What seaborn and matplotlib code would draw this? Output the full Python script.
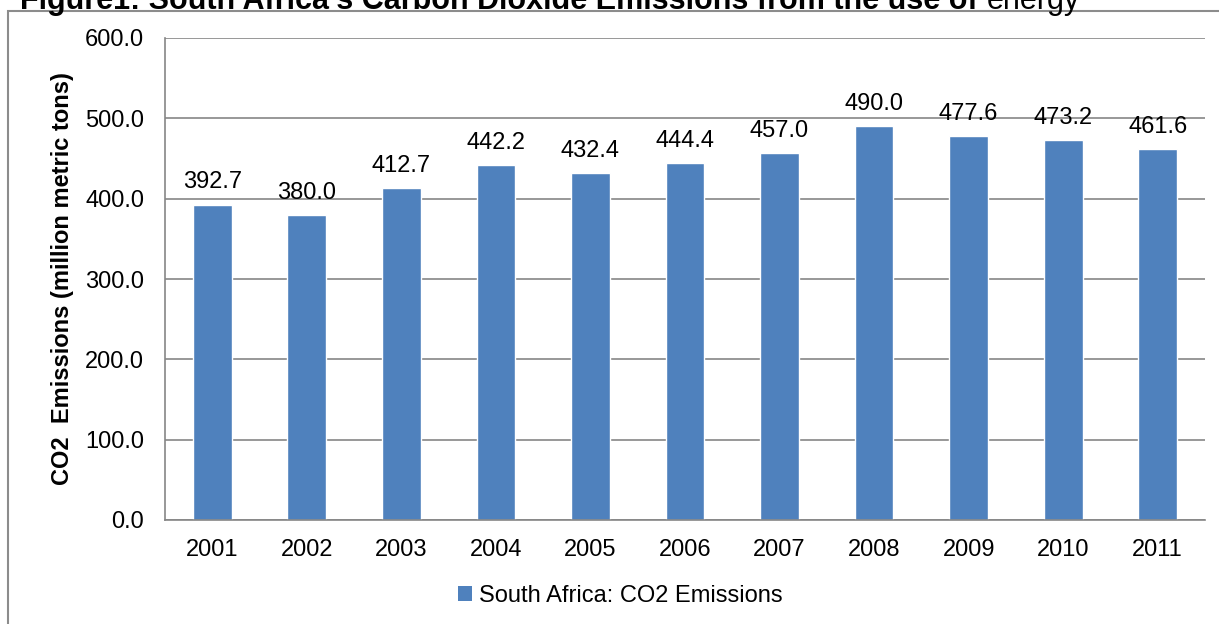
import matplotlib
matplotlib.use("Agg")
import matplotlib.pyplot as plt
from matplotlib.patches import Rectangle
import seaborn as sns
import pandas as pd

years = ["2001", "2002", "2003", "2004", "2005", "2006", "2007", "2008", "2009", "2010", "2011"]
emissions = [392.7, 380.0, 412.7, 442.2, 432.4, 444.4, 457.0, 490.0, 477.6, 473.2, 461.6]
series_name = "South Africa: CO2 Emissions"
y_ticks = [0, 100, 200, 300, 400, 500, 600]

sns.set_style("white")
plt.rcParams["font.family"] = ["Liberation Sans", "DejaVu Sans"]
plt.rcParams["text.color"] = "black"
plt.rcParams["axes.labelcolor"] = "black"
plt.rcParams["xtick.labelcolor"] = "black"
plt.rcParams["ytick.labelcolor"] = "black"

BAR_BLUE = "#4F81BD"
GRID_GREY = "#868686"
FS = 17

df = pd.DataFrame({"year": years, "value": emissions, "series": series_name})

fig = plt.figure(figsize=(12.19, 6.24), dpi=100)
ax = fig.add_axes([165 / 1219, 1 - 520 / 624, 1040 / 1219, 482 / 624])

sns.barplot(data=df, x="year", y="value", hue="series", palette=[BAR_BLUE],
            width=0.41, ax=ax, legend=False, saturation=1)

ax.set_ylim(0, 600)
ax.set_xlim(-0.5, len(years) - 0.5)
ax.set_yticks(y_ticks)
ax.set_yticklabels([f"{v:.1f}" for v in y_ticks], fontsize=FS)
ax.set_xticks(range(len(years)))
ax.set_xticklabels(years, fontsize=FS)
ax.set_xticks([i - 0.5 for i in range(len(years) + 1)], minor=True)
ax.tick_params(axis="x", which="major", length=0, pad=14)
ax.tick_params(axis="x", which="minor", length=6, width=1.2, color=GRID_GREY, direction="out")
ax.tick_params(axis="y", length=7, width=1.2, color=GRID_GREY, direction="out", pad=8)
ax.yaxis.grid(True, color=GRID_GREY, linewidth=1.2)
ax.set_axisbelow(True)
for side in ["top", "right"]:
    ax.spines[side].set_visible(False)
for side in ["left", "bottom"]:
    ax.spines[side].set_color(GRID_GREY)
    ax.spines[side].set_linewidth(1.2)

ax.set_xlabel("")
ax.set_ylabel("CO2  Emissions (million metric tons)", fontsize=FS, fontweight="bold", labelpad=8)

for i, v in enumerate(emissions):
    ax.annotate(f"{v:.1f}", (i, v), xytext=(0, 8), textcoords="offset points",
                ha="center", va="bottom", fontsize=FS, zorder=5)

# legend
handle = Rectangle((0, 0), 1, 1, facecolor=BAR_BLUE, edgecolor="none")
fig.legend([handle], [series_name], loc="center", bbox_to_anchor=(0.509, 1 - 596 / 624),
           frameon=False, fontsize=FS, handlelength=0.6, handleheight=0.6,
           handletextpad=0.3)

# chart frame
fig.patches.append(Rectangle((8 / 1219, -0.05), 1.1, 1 - 11 / 624 + 0.05,
                             transform=fig.transFigure, fill=False,
                             edgecolor="#8C8C8C", linewidth=1.5, clip_on=False))

# heading (runs off the top edge of the figure)
t1 = fig.text(20 / 1219, 1 - 9 / 624, "Figure1: South Africa's Carbon Dioxide Emissions from the use of ",
              fontsize=22, fontweight="bold", va="baseline", ha="left")
fig.canvas.draw()
bb = t1.get_window_extent()
fig.text(bb.x1 / fig.bbox.width, 1 - 9 / 624, "energy", fontsize=22, va="baseline", ha="left")

fig.savefig("out.png", dpi=100)
